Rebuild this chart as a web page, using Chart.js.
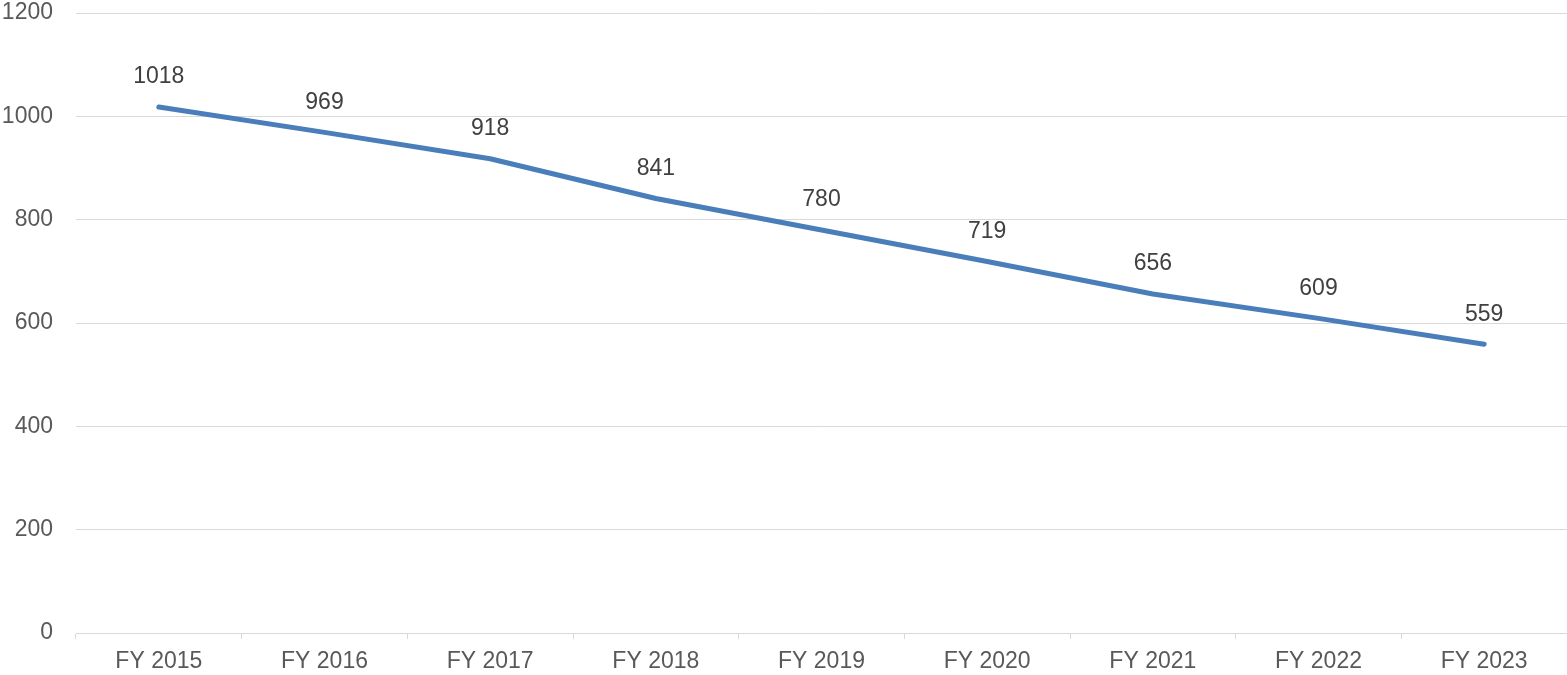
<!DOCTYPE html>
<html>
<head>
<meta charset="utf-8">
<script src="https://cdn.jsdelivr.net/npm/chart.js@4.4.1/dist/chart.umd.min.js"></script>
<style>
  html, body { margin: 0; padding: 0; background: #ffffff; }
  #wrap { width: 1567px; height: 675px; position: relative; }
</style>
</head>
<body>
<div id="wrap"><canvas id="c"></canvas></div>
<script>
const categories = ['FY 2015', 'FY 2016', 'FY 2017', 'FY 2018', 'FY 2019', 'FY 2020', 'FY 2021', 'FY 2022', 'FY 2023'];
const values = [1018, 969, 918, 841, 780, 719, 656, 609, 559];
const yTicks = [0, 200, 400, 600, 800, 1000, 1200];

const FONT = '"Liberation Sans", Arial, sans-serif';
const FSIZE = 23;

const dataLabels = {
  id: 'dataLabels',
  afterDatasetsDraw(chart) {
    const ctx = chart.ctx;
    const meta = chart.getDatasetMeta(0);
    ctx.save();
    ctx.font = FSIZE + 'px ' + FONT;
    ctx.fillStyle = '#404040';
    ctx.textAlign = 'center';
    ctx.textBaseline = 'middle';
    meta.data.forEach((pt, i) => {
      ctx.fillText(String(values[i]), pt.x, pt.y - 30);
    });
    ctx.restore();
  }
};

new Chart(document.getElementById('c'), {
  type: 'line',
  data: {
    labels: categories,
    datasets: [{
      data: values,
      borderColor: '#4a7ebb',
      borderWidth: 5,
      borderCapStyle: 'round',
      borderJoinStyle: 'round',
      pointRadius: 0,
      pointHoverRadius: 0,
      fill: false,
      tension: 0
    }]
  },
  options: {
    responsive: true,
    maintainAspectRatio: false,
    animation: false,
    events: [],
    layout: { padding: { top: 13, right: 0, bottom: 0, left: 0 } },
    plugins: { legend: { display: false }, tooltip: { enabled: false } },
    scales: {
      x: {
        offset: true,
        grid: { offset: true, drawOnChartArea: false, drawTicks: true, tickLength: 6, color: '#d9d9d9', lineWidth: 1 },
        border: { display: true, color: '#d9d9d9', width: 1 },
        ticks: { color: '#595959', font: { family: FONT, size: FSIZE }, padding: 9, maxRotation: 0, autoSkip: false },
        afterFit(scale) { scale.height = 42; scale.paddingLeft = 0; scale.paddingRight = 0; }
      },
      y: {
        min: 0,
        max: 1200,
        afterBuildTicks(scale) { scale.ticks = yTicks.map(v => ({ value: v })); },
        grid: { color: '#d9d9d9', lineWidth: 1, drawTicks: false },
        border: { display: false },
        ticks: { color: '#595959', font: { family: FONT, size: FSIZE }, padding: 23, callback: (v) => String(v) },
        afterFit(scale) { scale.width = 76; scale.paddingTop = 0; scale.paddingBottom = 0; }
      }
    }
  },
  plugins: [dataLabels]
});
</script>
</body>
</html>
